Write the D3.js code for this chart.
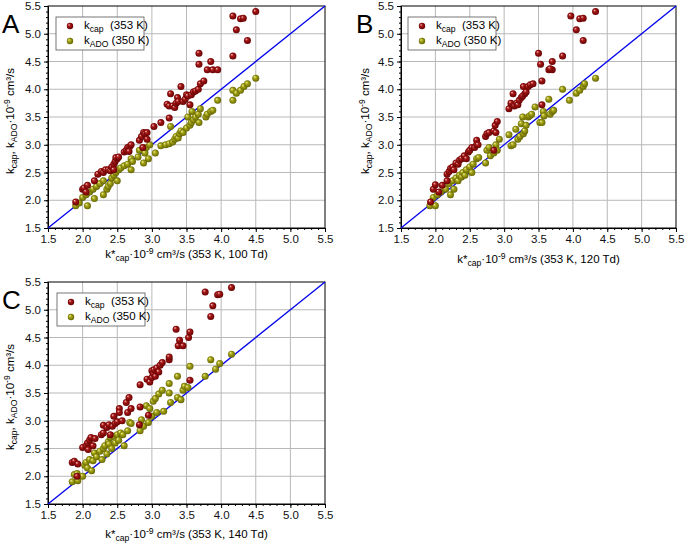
<!DOCTYPE html>
<html>
<head>
<meta charset="utf-8">
<script src="https://cdn.jsdelivr.net/npm/d3@7"></script>
<style>
  body { margin: 0; background: #fff; }
  svg { font-family: "Liberation Sans", Arial, sans-serif; }
</style>
</head>
<body>
<svg id="chart" width="685" height="545"></svg>
<script>
// axis ticks shared by all panels
const majorTicks = [1.5, 2.0, 2.5, 3.0, 3.5, 4.0, 4.5, 5.0, 5.5];
const axisDomain = [1.5, 5.5];

// panel A: 100 Td
const capA = [
  [1.9,1.97],[2.0,2.2],[2.02,2.22],[2.07,2.27],[2.05,2.15],[2.17,2.35],[2.22,2.47],[2.27,2.52],
  [2.3,2.5],[2.33,2.55],[2.37,2.55],[2.4,2.53],[2.42,2.6],[2.45,2.65],[2.47,2.7],[2.5,2.75],
  [2.48,2.77],[2.52,2.78],[2.45,2.55],[2.6,2.87],[2.63,2.9],[2.65,2.95],[2.68,2.97],[2.7,3.0],
  [2.67,2.88],[2.82,3.08],[2.85,3.15],[2.88,3.22],[2.9,3.2],[2.93,3.22],[2.93,3.1],[2.87,2.95],
  [3.03,3.33],[3.13,3.4],[3.25,3.48],[3.22,3.73],[3.25,3.7],[3.27,3.92],[3.3,3.7],[3.33,3.67],
  [3.35,3.75],[3.37,3.85],[3.38,3.78],[3.42,4.05],[3.45,3.78],[3.48,3.82],[3.5,3.9],[3.52,3.88],
  [3.55,3.72],[3.57,3.9],[3.6,3.95],[3.63,3.97],[3.67,4.0],[3.7,4.1],[3.68,4.45],[3.68,4.65],
  [3.75,4.15],[3.8,4.35],[3.85,4.5],[3.88,4.35],[3.95,4.35],[4.17,4.6],[4.17,5.32],[4.22,5.07],
  [4.28,5.27],[4.32,5.28],[4.38,4.88],[4.5,5.4]
];
const adoA = [
  [1.9,1.9],[1.95,1.95],[2.0,2.05],[2.07,1.9],[2.05,2.1],[2.1,2.15],[2.15,2.2],[2.17,2.03],
  [2.2,2.25],[2.25,2.3],[2.3,2.1],[2.3,2.35],[2.35,2.2],[2.37,2.25],[2.4,2.3],[2.42,2.4],
  [2.45,2.45],[2.48,2.5],[2.5,2.35],[2.52,2.55],[2.55,2.58],[2.6,2.62],[2.65,2.65],[2.7,2.55],
  [2.7,2.75],[2.72,2.7],[2.8,2.78],[2.82,2.9],[2.88,2.67],[2.9,2.85],[2.92,2.95],[2.95,2.75],
  [2.97,3.0],[3.05,2.85],[3.13,2.98],[3.2,3.0],[3.25,3.02],[3.27,3.33],[3.3,3.05],[3.33,3.1],
  [3.35,3.15],[3.38,3.12],[3.4,3.2],[3.42,3.25],[3.45,3.22],[3.5,3.3],[3.52,3.5],[3.55,3.35],
  [3.57,3.4],[3.58,3.6],[3.6,3.45],[3.63,3.5],[3.67,3.55],[3.68,3.4],[3.7,3.65],[3.78,3.5],
  [3.8,3.55],[3.85,3.6],[3.88,3.62],[3.95,3.8],[4.17,3.98],[4.17,3.8],[4.22,3.93],[4.28,3.98],
  [4.33,4.05],[4.38,4.1],[4.5,4.2]
];

// panel B: 120 Td
const capB = [
  [1.93,1.97],[1.97,2.2],[2.0,2.28],[2.05,2.15],[2.1,2.27],[2.17,2.47],[2.17,2.35],[2.2,2.52],
  [2.22,2.57],[2.25,2.6],[2.27,2.55],[2.3,2.67],[2.33,2.65],[2.35,2.72],[2.38,2.75],[2.42,2.8],
  [2.45,2.75],[2.48,2.87],[2.5,2.9],[2.53,2.95],[2.57,2.95],[2.6,3.08],[2.6,3.0],[2.62,3.0],
  [2.73,3.15],[2.75,3.2],[2.78,3.22],[2.85,3.25],[2.87,3.35],[2.9,3.42],[2.88,3.22],[2.85,2.9],
  [3.07,3.65],[3.1,3.75],[3.13,3.92],[3.15,3.7],[3.18,3.75],[3.2,3.72],[3.22,3.8],[3.25,3.85],
  [3.27,3.88],[3.28,4.05],[3.3,3.92],[3.32,3.95],[3.35,4.05],[3.38,4.08],[3.42,4.1],[3.5,4.65],
  [3.53,4.45],[3.55,4.15],[3.55,3.72],[3.65,4.35],[3.7,4.5],[3.7,4.35],[3.67,4.37],[3.85,4.6],
  [3.97,5.32],[4.05,5.07],[4.1,5.27],[4.15,5.28],[4.15,4.88],[4.33,5.4]
];
const adoB = [
  [1.92,1.9],[1.97,2.05],[2.0,1.9],[2.03,2.1],[2.08,2.15],[2.15,2.2],[2.2,2.3],[2.22,2.1],
  [2.25,2.35],[2.27,2.2],[2.3,2.4],[2.33,2.35],[2.35,2.45],[2.38,2.42],[2.4,2.5],[2.43,2.45],
  [2.45,2.55],[2.5,2.6],[2.53,2.5],[2.55,2.65],[2.6,2.75],[2.63,2.77],[2.73,2.67],[2.75,2.9],
  [2.78,2.95],[2.8,2.8],[2.85,2.85],[2.88,3.0],[2.9,2.9],[2.93,3.1],[3.07,3.18],[3.1,2.98],
  [3.13,3.0],[3.17,3.28],[3.2,3.1],[3.23,3.15],[3.25,3.38],[3.27,3.5],[3.28,3.2],[3.3,3.25],
  [3.32,3.35],[3.35,3.5],[3.37,3.52],[3.4,3.55],[3.45,3.68],[3.52,3.4],[3.55,3.4],[3.57,3.6],
  [3.58,3.52],[3.65,3.82],[3.67,3.55],[3.7,3.6],[3.72,3.62],[3.85,4.0],[3.95,3.8],[4.05,3.93],
  [4.1,3.98],[4.15,4.05],[4.17,4.1],[4.33,4.2]
];

// panel C: 140 Td
const capC = [
  [1.85,2.25],[1.88,2.27],[1.93,2.22],[1.92,2.0],[2.0,2.52],[2.05,2.55],[2.07,2.6],[2.08,2.48],
  [2.1,2.65],[2.12,2.7],[2.15,2.55],[2.18,2.68],[2.27,2.75],[2.3,2.78],[2.3,2.92],[2.35,2.88],
  [2.38,2.93],[2.4,2.75],[2.43,2.9],[2.45,3.08],[2.47,2.95],[2.5,2.98],[2.53,3.22],[2.53,3.15],
  [2.57,3.0],[2.63,3.33],[2.65,3.15],[2.67,3.42],[2.7,3.22],[2.83,3.65],[2.83,3.25],[2.82,2.93],
  [2.93,3.75],[2.97,3.7],[3.0,3.78],[3.0,3.9],[3.02,3.85],[3.03,3.92],[3.05,3.8],[3.07,3.95],
  [3.1,3.88],[3.12,4.0],[3.15,4.05],[3.25,4.1],[3.25,4.15],[3.35,4.65],[3.38,4.35],[3.4,4.45],
  [3.45,4.35],[3.53,4.5],[3.55,4.6],[3.55,3.73],[3.77,5.32],[3.85,4.88],[3.88,5.07],[3.95,5.27],
  [3.98,5.28],[4.15,5.4],[2.95,3.1]
];
const adoC = [
  [1.85,1.9],[1.88,2.03],[1.92,2.05],[1.93,1.92],[2.0,2.0],[2.03,2.2],[2.05,2.25],[2.07,2.15],
  [2.1,2.3],[2.13,2.1],[2.15,2.28],[2.17,2.42],[2.2,2.35],[2.25,2.45],[2.28,2.3],[2.3,2.5],
  [2.32,2.55],[2.35,2.4],[2.37,2.62],[2.38,2.58],[2.4,2.7],[2.42,2.5],[2.45,2.72],[2.47,2.6],
  [2.5,2.75],[2.52,2.65],[2.55,2.78],[2.58,2.75],[2.6,2.55],[2.65,2.82],[2.68,2.97],[2.7,2.95],
  [2.83,2.82],[2.85,3.02],[2.88,2.9],[2.92,3.27],[2.95,2.97],[2.97,3.22],[3.0,3.08],[3.02,3.35],
  [3.05,3.4],[3.07,3.15],[3.1,3.48],[3.15,3.55],[3.17,3.17],[3.25,3.67],[3.25,3.5],[3.27,3.33],
  [3.37,3.8],[3.37,3.42],[3.42,3.38],[3.45,3.55],[3.47,3.62],[3.52,3.6],[3.55,3.98],[3.77,3.8],
  [3.85,4.1],[3.92,3.93],[3.98,4.03],[4.15,4.2]
];

const panels = [
  { letter: "A", td: "100", cap: capA, ado: adoA, left: 48, top: 6, right: 325, bottom: 228, letterX: 2, letterY: 33, ytX: 14, legX: 56, legY: 17, titleDy: 30 },
  { letter: "B", td: "120", cap: capB, ado: adoB, left: 401, top: 6, right: 676, bottom: 228, letterX: 356, letterY: 33, ytX: 369, legX: 408, legY: 17, titleDy: 35 },
  { letter: "C", td: "140", cap: capC, ado: adoC, left: 48, top: 282, right: 325, bottom: 504, letterX: 2, letterY: 309, ytX: 14, legX: 57, legY: 293, titleDy: 34 }
];

const svg = d3.select("#chart");

// sphere-like marker shading
const defs = svg.append("defs");
function sphere(id, light, mid, dark) {
    const g = defs.append("radialGradient").attr("id", id)
        .attr("cx", "50%").attr("cy", "50%").attr("r", "55%")
        .attr("fx", "32%").attr("fy", "30%");
    g.append("stop").attr("offset", "0%").attr("stop-color", light);
    g.append("stop").attr("offset", "35%").attr("stop-color", mid);
    g.append("stop").attr("offset", "100%").attr("stop-color", dark);
}
sphere("gradCap", "#f4c8c8", "#a81818", "#600000");
sphere("gradAdo", "#f4f4b0", "#a8a818", "#5e5e00");

function subLabel(sel, main, sub, rest) {
    sel.append("tspan").text(main);
    sel.append("tspan").attr("dy", 3).attr("font-size", "0.75em").text(sub);
    sel.append("tspan").attr("dy", -3).text(rest);
}

panels.forEach(p => {
    const x = d3.scaleLinear().domain(axisDomain).range([p.left, p.right]);
    const y = d3.scaleLinear().domain(axisDomain).range([p.bottom, p.top]);
    const g = svg.append("g");
    const minor = d3.range(15, 56).map(d => d / 10);

    // grid
    g.append("g").selectAll("line").data(majorTicks.slice(1, -1)).enter().append("line")
        .attr("x1", d => x(d)).attr("x2", d => x(d)).attr("y1", p.top).attr("y2", p.bottom)
        .attr("stroke", "#b8b8b8").attr("stroke-width", 1);
    g.append("g").selectAll("line").data(majorTicks.slice(1, -1)).enter().append("line")
        .attr("y1", d => y(d)).attr("y2", d => y(d)).attr("x1", p.left).attr("x2", p.right)
        .attr("stroke", "#b8b8b8").attr("stroke-width", 1);

    // axes with minor ticks
    g.append("g").attr("transform", `translate(0,${p.bottom})`)
        .call(d3.axisBottom(x).tickValues(majorTicks).tickFormat(d3.format(".1f")).tickSize(4).tickPadding(3));
    g.append("g").attr("transform", `translate(0,${p.bottom})`)
        .call(d3.axisBottom(x).tickValues(minor).tickFormat("").tickSize(2))
        .select(".domain").remove();
    g.append("g").attr("transform", `translate(${p.left},0)`)
        .call(d3.axisLeft(y).tickValues(majorTicks).tickFormat(d3.format(".1f")).tickSize(4).tickPadding(3));
    g.append("g").attr("transform", `translate(${p.left},0)`)
        .call(d3.axisLeft(y).tickValues(minor).tickFormat("").tickSize(2))
        .select(".domain").remove();
    g.selectAll(".tick text").attr("font-size", 11.5).attr("fill", "#111")
        .attr("font-family", "Liberation Sans, Arial, sans-serif");
    g.selectAll(".tick line").attr("stroke", "#000");

    // frame
    g.append("rect").attr("x", p.left).attr("y", p.top)
        .attr("width", p.right - p.left).attr("height", p.bottom - p.top)
        .attr("fill", "none").attr("stroke", "#000").attr("stroke-width", 1);

    // y = x line
    g.append("line").attr("x1", x(1.5)).attr("y1", y(1.5)).attr("x2", x(5.5)).attr("y2", y(5.5))
        .attr("stroke", "#0000ee").attr("stroke-width", 1.3);

    // points
    g.append("g").selectAll("circle").data(p.ado).enter().append("circle")
        .attr("cx", d => x(d[0])).attr("cy", d => y(d[1])).attr("r", 3.5)
        .attr("fill", "url(#gradAdo)");
    g.append("g").selectAll("circle").data(p.cap).enter().append("circle")
        .attr("cx", d => x(d[0])).attr("cy", d => y(d[1])).attr("r", 3.5)
        .attr("fill", "url(#gradCap)");

    // legend
    const leg = g.append("g").attr("transform", `translate(${p.legX},${p.legY})`);
    leg.append("rect").attr("width", 88).attr("height", 33)
        .attr("fill", "#fff").attr("stroke", "#555").attr("stroke-width", 0.8);
    leg.append("circle").attr("cx", 14).attr("cy", 9).attr("r", 3.2).attr("fill", "url(#gradCap)");
    leg.append("circle").attr("cx", 14).attr("cy", 24).attr("r", 3.2).attr("fill", "url(#gradAdo)");
    subLabel(leg.append("text").attr("x", 28).attr("y", 12).attr("font-size", 11.5), "k", "cap", "  (353 K)");
    subLabel(leg.append("text").attr("x", 28).attr("y", 27).attr("font-size", 11.5), "k", "ADO", " (350 K)");
    leg.selectAll("text").attr("xml:space", "preserve");

    // panel letter
    g.append("text").attr("x", p.letterX).attr("y", p.letterY)
        .attr("font-size", 26).attr("fill", "#000").text(p.letter);

    // x title
    const xt = g.append("text").attr("x", (p.left + p.right) / 2).attr("y", p.bottom + p.titleDy)
        .attr("text-anchor", "middle").attr("font-size", 11.5);
    xt.append("tspan").text("k*");
    xt.append("tspan").attr("dy", 3).attr("font-size", "0.75em").text("cap");
    xt.append("tspan").attr("dy", -3).text("·10");
    xt.append("tspan").attr("dy", -4).attr("font-size", "0.75em").text("-9");
    xt.append("tspan").attr("dy", 4).text(` cm³/s (353 K, ${p.td} Td)`);

    // y title
    const yt = g.append("text")
        .attr("transform", `translate(${p.ytX},${(p.top + p.bottom) / 2 + 4}) rotate(-90)`)
        .attr("text-anchor", "middle").attr("font-size", 11.5);
    yt.append("tspan").text("k");
    yt.append("tspan").attr("dy", 3).attr("font-size", "0.75em").text("cap");
    yt.append("tspan").attr("dy", -3).text(", k");
    yt.append("tspan").attr("dy", 3).attr("font-size", "0.75em").text("ADO");
    yt.append("tspan").attr("dy", -3).text("·10");
    yt.append("tspan").attr("dy", -4).attr("font-size", "0.75em").text("-9");
    yt.append("tspan").attr("dy", 4).text(" cm³/s");
});
</script>
</body>
</html>
